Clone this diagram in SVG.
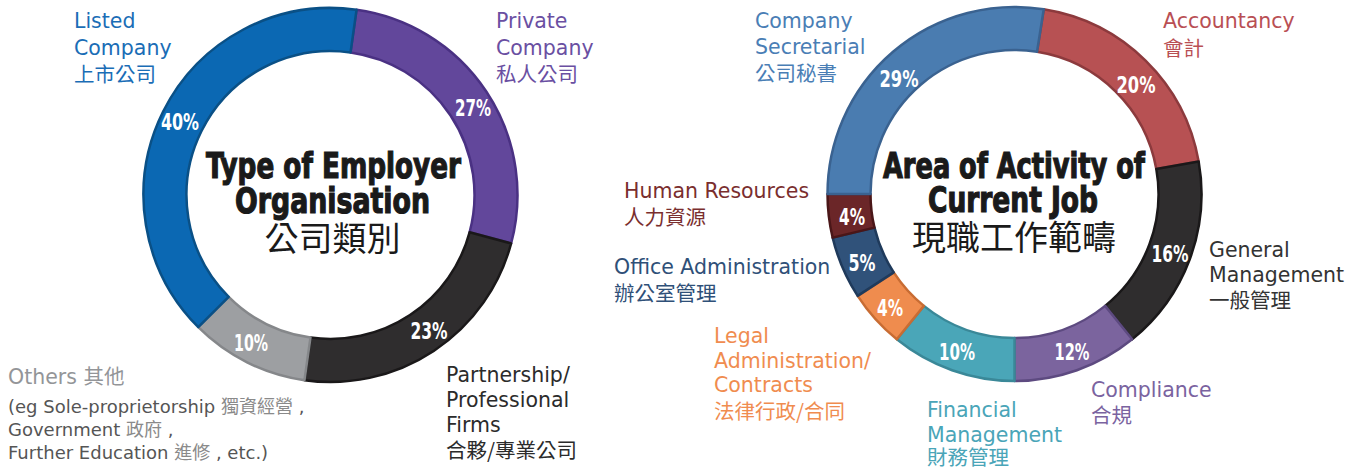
<svg xmlns="http://www.w3.org/2000/svg" width="1359" height="470" viewBox="0 0 1359 470">
<style>
.lbl{font-family:"DejaVu Sans","Noto Sans CJK TC",sans-serif;font-size:20.5px}
.cjk{font-family:"Noto Sans CJK TC","DejaVu Sans",sans-serif;font-size:20.5px}
.sub{font-family:"DejaVu Sans","Noto Sans CJK TC",sans-serif;font-size:18px;fill:#555}
.subc{font-family:"Noto Sans CJK TC",sans-serif;font-size:18px;fill:#8a8a8a}
.pct{font-family:"Liberation Sans Narrow","DejaVu Sans Condensed","DejaVu Sans",sans-serif;font-stretch:condensed;font-weight:bold;font-size:23px;fill:#fff;text-anchor:middle}
.ttl{font-family:"Liberation Sans Narrow","DejaVu Sans Condensed","DejaVu Sans",sans-serif;font-stretch:condensed;font-weight:bold;font-size:36px;fill:#1a1a1a;stroke:#1a1a1a;stroke-width:1.2;text-anchor:middle}
.ttlc{font-family:"Noto Sans CJK TC",sans-serif;font-size:34px;fill:#1a1a1a;text-anchor:middle}
.seg{stroke-width:2.5;stroke-linejoin:round}
</style>
<rect width="1359" height="470" fill="#fff"/>

<g id="chart-employer">
  <g id="seg-private"><path class="seg" fill="#62479b" stroke="#4a3183" d="M356.53,9.81 A187,187 0 0 1 511.13,243.40 L469.59,232.27 A144,144 0 0 0 350.54,52.40 Z"/><text class="pct" x="473" y="116" textLength="36" lengthAdjust="spacingAndGlyphs">27%</text></g>
  <g id="seg-partnership"><path class="seg" fill="#2f2d2e" stroke="#1a1819" d="M511.13,243.40 A187,187 0 0 1 304.47,380.19 L310.46,337.60 A144,144 0 0 0 469.59,232.27 Z"/><text class="pct" x="429" y="339" textLength="37" lengthAdjust="spacingAndGlyphs">23%</text></g>
  <g id="seg-others"><path class="seg" fill="#9d9fa2" stroke="#85878a" d="M304.47,380.19 A187,187 0 0 1 198.27,327.23 L228.68,296.82 A144,144 0 0 0 310.46,337.60 Z"/><text class="pct" x="251" y="351" textLength="34" lengthAdjust="spacingAndGlyphs">10%</text></g>
  <g id="seg-listed"><path class="seg" fill="#0b68b3" stroke="#0a5086" d="M198.27,327.23 A187,187 0 0 1 356.53,9.81 L350.54,52.40 A144,144 0 0 0 228.68,296.82 Z"/><text class="pct" x="180" y="130" textLength="38" lengthAdjust="spacingAndGlyphs">40%</text></g>
  <g id="title-employer">
    <text class="ttl" x="333.5" y="178" textLength="255" lengthAdjust="spacingAndGlyphs">Type of Employer</text>
    <text class="ttl" x="332.5" y="213" textLength="195" lengthAdjust="spacingAndGlyphs">Organisation</text>
    <text class="ttlc" x="332.5" y="251">公司類別</text>
  </g>
</g>

<g id="labels-employer">
  <g id="lbl-listed" fill="#1a6db6"><text class="lbl" x="74" y="28">Listed</text><text class="lbl" x="74" y="55">Company</text><text class="cjk" x="74" y="82">上市公司</text></g>
  <g id="lbl-private" fill="#6a4fa2"><text class="lbl" x="496" y="28">Private</text><text class="lbl" x="496" y="55">Company</text><text class="cjk" x="496" y="82">私人公司</text></g>
  <g id="lbl-partnership" fill="#2b2b2b"><text class="lbl" x="446" y="382">Partnership/</text><text class="lbl" x="446" y="407">Professional</text><text class="lbl" x="446" y="432">Firms</text><text class="cjk" x="446" y="458">合夥/專業公司</text></g>
  <g id="lbl-others">
    <text class="lbl" x="8" y="384" fill="#939598">Others <tspan class="cjk">其他</tspan></text>
    <text class="sub" x="8" y="413">(eg Sole-proprietorship <tspan class="subc">獨資經營</tspan> ,</text>
    <text class="sub" x="8" y="436">Government <tspan class="subc">政府</tspan> ,</text>
    <text class="sub" x="8" y="459">Further Education <tspan class="subc">進修</tspan> , etc.)</text>
  </g>
</g>

<g id="chart-activity">
  <g id="seg-accountancy"><path class="seg" fill="#b75153" stroke="#8c3a3d" d="M1043.75,9.30 A187,187 0 0 1 1198.66,161.53 L1156.31,169.00 A144,144 0 0 0 1037.02,51.77 Z"/><text class="pct" x="1136" y="93" textLength="39" lengthAdjust="spacingAndGlyphs">20%</text></g>
  <g id="seg-general"><path class="seg" fill="#2f2d2e" stroke="#1a1819" d="M1198.66,161.53 A187,187 0 0 1 1132.18,339.32 L1105.12,305.90 A144,144 0 0 0 1156.31,169.00 Z"/><text class="pct" x="1170" y="262" textLength="37" lengthAdjust="spacingAndGlyphs">16%</text></g>
  <g id="seg-compliance"><path class="seg" fill="#7b649e" stroke="#5d4a80" d="M1132.18,339.32 A187,187 0 0 1 1014.5,381 L1014.5,338 A144,144 0 0 0 1105.12,305.90 Z"/><text class="pct" x="1072" y="360" textLength="35" lengthAdjust="spacingAndGlyphs">12%</text></g>
  <g id="seg-financial"><path class="seg" fill="#4aa6b8" stroke="#3a8898" d="M1014.5,381 A187,187 0 0 1 896.82,339.32 L923.88,305.90 A144,144 0 0 0 1014.5,338 Z"/><text class="pct" x="957" y="360" textLength="36" lengthAdjust="spacingAndGlyphs">10%</text></g>
  <g id="seg-legal"><path class="seg" fill="#ef8c4e" stroke="#c86c33" d="M896.82,339.32 A187,187 0 0 1 857.66,295.84 L893.73,272.42 A144,144 0 0 0 923.88,305.90 Z"/><text class="pct" x="890" y="316" textLength="26" lengthAdjust="spacingAndGlyphs">4%</text></g>
  <g id="seg-office"><path class="seg" fill="#30527a" stroke="#1f3a5b" d="M857.66,295.84 A187,187 0 0 1 832.66,237.65 L874.47,227.61 A144,144 0 0 0 893.73,272.42 Z"/><text class="pct" x="862" y="271" textLength="27" lengthAdjust="spacingAndGlyphs">5%</text></g>
  <g id="seg-hr"><path class="seg" fill="#6b2628" stroke="#4a1618" d="M832.66,237.65 A187,187 0 0 1 827.5,194 L870.5,194 A144,144 0 0 0 874.47,227.61 Z"/><text class="pct" x="852" y="225" textLength="26" lengthAdjust="spacingAndGlyphs">4%</text></g>
  <g id="seg-secretarial"><path class="seg" fill="#4a7cb0" stroke="#3a6290" d="M827.5,194 A187,187 0 0 1 1043.75,9.30 L1037.02,51.77 A144,144 0 0 0 870.5,194 Z"/><text class="pct" x="899" y="87" textLength="39" lengthAdjust="spacingAndGlyphs">29%</text></g>
  <g id="title-activity">
    <text class="ttl" x="1014" y="178" textLength="262" lengthAdjust="spacingAndGlyphs">Area of Activity of</text>
    <text class="ttl" x="1013" y="212" textLength="170" lengthAdjust="spacingAndGlyphs">Current Job</text>
    <text class="ttlc" x="1014" y="250">現職工作範疇</text>
  </g>
</g>

<g id="labels-activity">
  <g id="lbl-secretarial" fill="#4a7eb5"><text class="lbl" x="755" y="28">Company</text><text class="lbl" x="755" y="54">Secretarial</text><text class="cjk" x="755" y="81">公司秘書</text></g>
  <g id="lbl-accountancy" fill="#b94f54"><text class="lbl" x="1163" y="28">Accountancy</text><text class="cjk" x="1163" y="56">會計</text></g>
  <g id="lbl-hr" fill="#7a2e2e"><text class="lbl" x="624" y="198">Human Resources</text><text class="cjk" x="624" y="225">人力資源</text></g>
  <g id="lbl-office" fill="#2f5078"><text class="lbl" x="614" y="274">Office Administration</text><text class="cjk" x="614" y="301">辦公室管理</text></g>
  <g id="lbl-legal" fill="#f08c4f"><text class="lbl" x="714" y="343">Legal</text><text class="lbl" x="714" y="368">Administration/</text><text class="lbl" x="714" y="392">Contracts</text><text class="cjk" x="714" y="419">法律行政/合同</text></g>
  <g id="lbl-financial" fill="#4aa5b8"><text class="lbl" x="927" y="417">Financial</text><text class="lbl" x="927" y="442">Management</text><text class="cjk" x="927" y="465">財務管理</text></g>
  <g id="lbl-compliance" fill="#7a63a0"><text class="lbl" x="1091" y="397">Compliance</text><text class="cjk" x="1091" y="423">合規</text></g>
  <g id="lbl-general" fill="#333"><text class="lbl" x="1209" y="257">General</text><text class="lbl" x="1209" y="282">Management</text><text class="cjk" x="1209" y="308">一般管理</text></g>
</g>
</svg>
